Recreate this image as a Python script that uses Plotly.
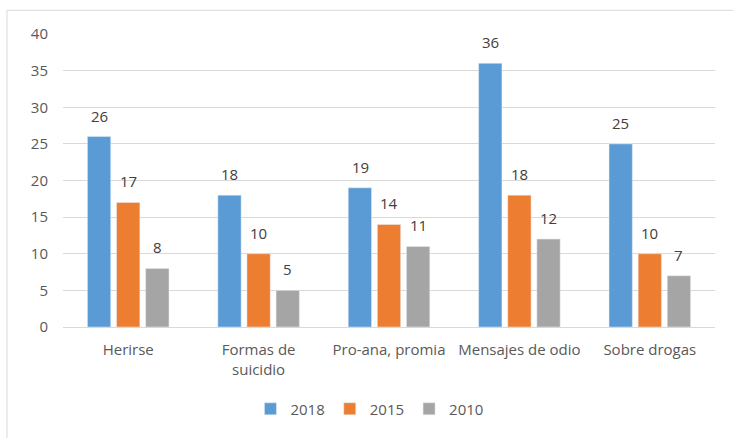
import plotly.graph_objects as go

categories = ["Herirse", "Formas de<br>suicidio", "Pro-ana, promia", "Mensajes de odio", "Sobre drogas"]
series_names = ["2018", "2015", "2010"]
values_2018 = [26, 18, 19, 36, 25]
values_2015 = [17, 10, 14, 18, 10]
values_2010 = [8, 5, 11, 12, 7]
colors = ["#5B9BD5", "#ED7D31", "#A5A5A5"]

FONT = "Open Sans, Liberation Sans, sans-serif"
TXT = "#595959"

fig = go.Figure()
annotations = []
all_series = [values_2018, values_2015, values_2010]
for i, (name, vals, col) in enumerate(zip(series_names, all_series, colors)):
    fig.add_trace(go.Bar(name=name, x=categories, y=vals, marker_color=col))
    for c, v in zip(categories, vals):
        annotations.append(dict(
            x=c, y=v, xref="x", yref="y", text=str(v), showarrow=False,
            yanchor="bottom", xshift=(i - 1) * 29, yshift=9,
            font=dict(size=15, color="#404040", family=FONT),
        ))

fig.update_layout(
    width=733, height=438,
    margin=dict(l=63, r=18, t=34, b=108),
    paper_bgcolor="white", plot_bgcolor="white",
    barmode="group", bargap=0.33, bargroupgap=0.2,
    font=dict(family=FONT, size=15, color=TXT),
    showlegend=True,
    legend=dict(orientation="h", x=0.47, xanchor="center", y=-0.28, yanchor="middle",
                font=dict(size=15, color=TXT), itemwidth=30, traceorder="normal"),
    xaxis=dict(showgrid=False, showline=True, linecolor="#D9D9D9", linewidth=1,
               tickfont=dict(size=15, color=TXT), ticks="", ticklabelstandoff=9),
    yaxis=dict(range=[0, 40], dtick=5, showgrid=True, gridcolor="#D9D9D9", gridwidth=1,
               zeroline=False, showline=False, tickfont=dict(size=15, color=TXT),
               ticklabelstandoff=14),
    annotations=annotations,
    shapes=[dict(type="rect", xref="paper", yref="paper",
                 x0=-0.0859, x1=1.3, y0=-0.6, y1=1.081,
                 line=dict(color="#D9D9D9", width=1), fillcolor="rgba(0,0,0,0)", layer="below")],
)

fig.write_html("out.html")
